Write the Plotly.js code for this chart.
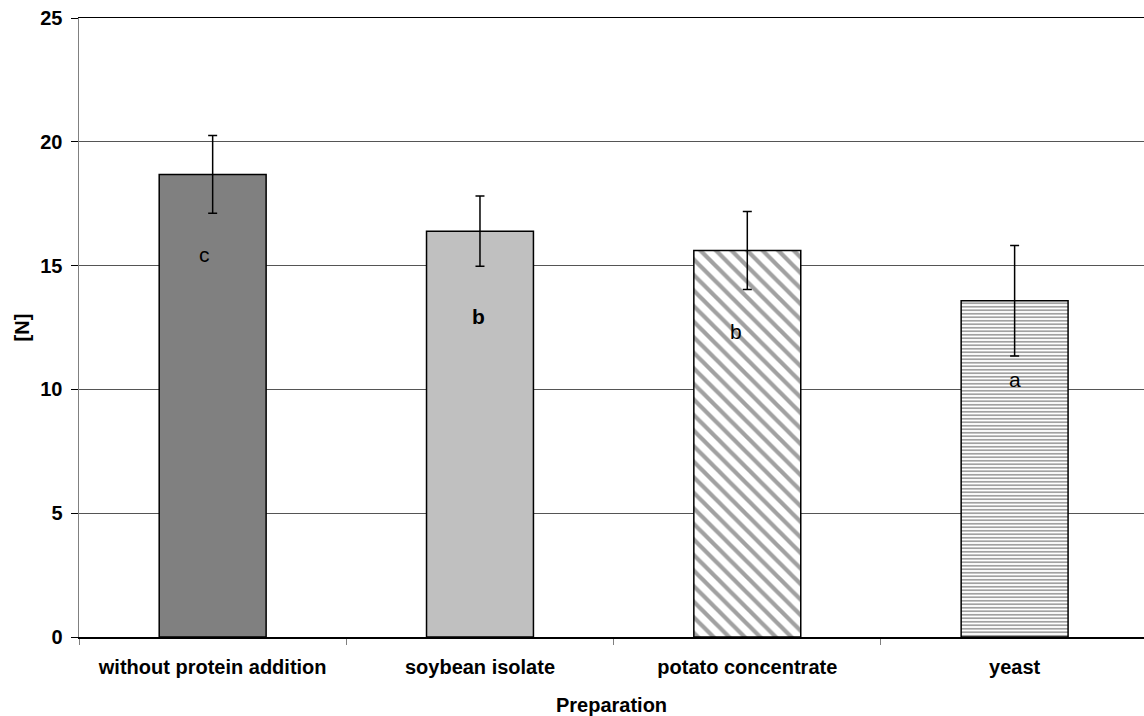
<!DOCTYPE html>
<html>
<head>
<meta charset="utf-8">
<script src="https://cdn.plot.ly/plotly-3.0.1.min.js"></script>
<style>
html,body{margin:0;padding:0;background:#fff;}
#chart{width:1144px;height:716px;}
</style>
</head>
<body>
<div id="chart"></div>
<script>
const categories = ['without protein addition', 'soybean isolate', 'potato concentrate', 'yeast'];
const means = [18.68, 16.39, 15.61, 13.58];
const errors = [1.57, 1.42, 1.58, 2.23];
const letters = ['c', 'b', 'b', 'a'];
const letterY = [15.43, 12.94, 12.34, 10.39];
const letterBold = [false, true, false, false];
const yTicks = [0, 5, 10, 15, 20, 25];

const FONT = 'Liberation Sans, Arial, sans-serif';

const trace = {
  type: 'bar',
  x: categories,
  y: means,
  width: 0.4,
  marker: {
    color: ['#808080', '#c0c0c0', '#ffffff', '#ffffff'],
    line: {color: '#000000', width: 1.5},
    pattern: {
      shape: ['', '', '\\', '-'],
      fgcolor: '#888888',
      bgcolor: '#ffffff',
      size: [8, 8, 11, 3.5],
      solidity: [0.3, 0.3, 0.38, 0.5],
      fillmode: 'overlay'
    }
  },
  error_y: {
    type: 'data',
    array: errors,
    visible: true,
    color: '#000000',
    thickness: 1.5,
    width: 4.5
  },
  hoverinfo: 'none'
};

const annotations = categories.map((c, i) => ({
  x: c,
  y: letterY[i],
  xref: 'x',
  yref: 'y',
  text: letterBold[i] ? '<b>' + letters[i] + '</b>' : letters[i],
  showarrow: false,
  xshift: [-8, -1, -11, 0][i],
  font: {family: FONT, size: 21, color: '#000000'}
}));

const layout = {
  width: 1144,
  height: 716,
  margin: {l: 79, r: 0, t: 18, b: 79},
  paper_bgcolor: '#ffffff',
  plot_bgcolor: '#ffffff',
  showlegend: false,
  font: {family: FONT, color: '#000000'},
  xaxis: {
    type: 'category',
    range: [-0.5, 3.484],
    showline: true,
    linecolor: '#000000',
    linewidth: 1.5,
    mirror: true,
    ticks: 'outside',
    tickson: 'boundaries',
    ticklen: 6,
    tickcolor: '#808080',
    tickwidth: 1,
    showgrid: false,
    zeroline: false,
    tickfont: {family: FONT, size: 20, color: '#000000', weight: 'bold'},
    ticklabelstandoff: 11,
    title: {text: '<b>Preparation</b>', font: {family: FONT, size: 20, color: '#000000'}, standoff: 22}
  },
  yaxis: {
    range: [0, 25],
    tickvals: yTicks,
    ticktext: yTicks.map(String),
    showline: true,
    linecolor: '#808080',
    linewidth: 1.5,
    ticks: 'outside',
    ticklen: 7,
    tickcolor: '#000000',
    tickwidth: 1,
    showgrid: true,
    gridcolor: '#555555',
    gridwidth: 1,
    zeroline: false,
    tickfont: {family: FONT, size: 20, color: '#000000', weight: 'bold'},
    ticklabelstandoff: 4,
    title: {text: '<b>[N]</b>', font: {family: FONT, size: 20, color: '#000000'}, standoff: 5}
  },
  annotations: annotations
};

Plotly.newPlot('chart', [trace], layout, {staticPlot: true, displayModeBar: false});
</script>
</body>
</html>
